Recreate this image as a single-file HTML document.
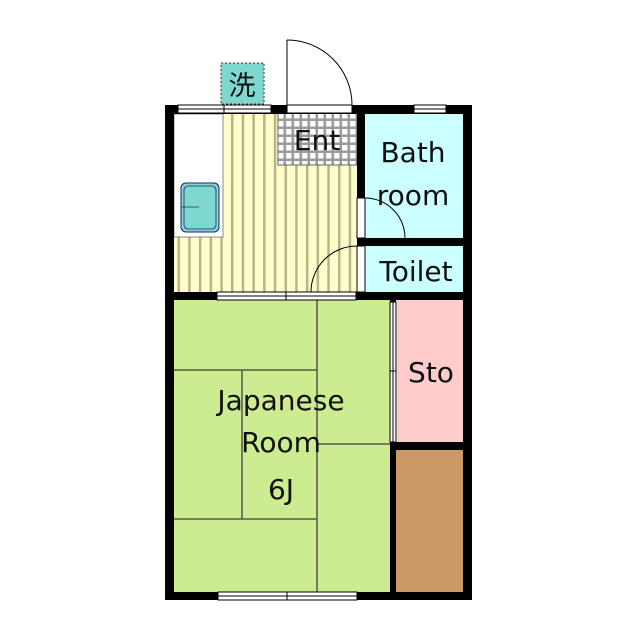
<!DOCTYPE html>
<html><head><meta charset="utf-8"><style>
html,body{margin:0;padding:0;background:#fff;}
svg{display:block;}
text{font-family:"DejaVu Sans","Liberation Sans","Noto Sans CJK JP",sans-serif;fill:#111;}
</style></head><body>
<svg width="640" height="640" viewBox="0 0 640 640" xmlns="http://www.w3.org/2000/svg">
<defs>
<pattern id="stripe" x="231" y="0" width="10.7" height="10" patternUnits="userSpaceOnUse">
<rect width="10.7" height="10" fill="#ffffcc"/><rect x="0" width="2.5" height="10" fill="#b8b48a"/>
</pattern>
<pattern id="grid" x="278" y="113" width="8" height="8" patternUnits="userSpaceOnUse">
<rect width="8" height="8" fill="#fff"/><rect x="5.5" width="3" height="8" fill="#999"/><rect y="5.5" width="8" height="3" fill="#999"/>
</pattern>
</defs>
<rect x="174" y="114" width="184" height="178" fill="url(#stripe)"/>
<rect x="174" y="114" width="49" height="123" fill="#fff" stroke="#888" stroke-width="1"/>
<rect x="181" y="183" width="38" height="49" rx="5" fill="#7fd8d0" stroke="#226" stroke-width="1"/>
<rect x="184" y="186" width="32" height="43" rx="4" fill="none" stroke="#226" stroke-width="0.8"/>
<line x1="181" y1="207" x2="199" y2="207" stroke="#333" stroke-width="0.8"/>
<rect x="278" y="113" width="79" height="52" fill="url(#grid)" stroke="#666" stroke-width="1"/>
<rect x="365" y="114" width="100" height="125" fill="#ccffff"/>
<rect x="365" y="246" width="100" height="46" fill="#ccffff"/>
<rect x="174" y="300" width="219" height="292" fill="#ccec8f"/>
<rect x="397" y="300" width="68" height="142" fill="#ffcccc"/>
<rect x="395" y="450" width="70" height="142" fill="#cc9966"/>
<g stroke="#555" stroke-width="1.5">
<line x1="317" y1="300" x2="317" y2="592"/>
<line x1="174" y1="370" x2="317" y2="370"/>
<line x1="242" y1="370" x2="242" y2="519"/>
<line x1="174" y1="519" x2="317" y2="519"/>
<line x1="317" y1="444" x2="393" y2="444"/>
</g>
<g fill="#000">
<rect x="165" y="105" width="9" height="495"/>
<rect x="463" y="105" width="9" height="495"/>
<rect x="165" y="105" width="307" height="9"/>
<rect x="165" y="592" width="307" height="8"/>
<rect x="165" y="292" width="307" height="8"/>
<rect x="357" y="105" width="8" height="195"/>
<rect x="357" y="238" width="115" height="8"/>
<rect x="390" y="300" width="6" height="300"/>
<rect x="390" y="442" width="82" height="8"/>
</g>
<g fill="#fff" stroke="#000" stroke-width="1">
<rect x="178" y="105" width="93" height="8"/>
<rect x="287" y="105" width="65" height="8"/>
<rect x="414" y="105" width="32" height="8"/>
<rect x="217" y="292" width="139" height="8"/>
<rect x="218" y="592" width="139" height="8"/>
<rect x="390" y="302" width="6" height="140"/>
<rect x="357" y="198" width="8" height="40"/>
<rect x="357" y="246" width="8" height="46"/>
</g>
<g stroke="#000" stroke-width="1" fill="none">
<line x1="178" y1="109" x2="271" y2="109"/><line x1="224" y1="105" x2="224" y2="113"/>
<line x1="217" y1="296" x2="356" y2="296"/><line x1="286" y1="292" x2="286" y2="300"/>
<line x1="218" y1="596" x2="357" y2="596"/><line x1="287" y1="592" x2="287" y2="600"/>
<line x1="393" y1="302" x2="393" y2="442"/><line x1="390" y1="371" x2="396" y2="371"/>
<line x1="414" y1="109" x2="446" y2="109"/>
<line x1="287" y1="105" x2="287" y2="40"/>
<path d="M287 40 A65 65 0 0 1 352 105"/>
<path d="M365 198 A40 40 0 0 1 405 238"/>
<path d="M357 246 A46 46 0 0 0 311 292"/>
</g>
<rect x="221" y="63" width="43" height="41" fill="#7fd8d0" stroke="#333" stroke-width="1" stroke-dasharray="2,2"/>
<text x="242" y="95" font-size="27" text-anchor="middle" style="font-family:'Noto Sans CJK JP',sans-serif">洗</text>
<text x="317" y="150" font-size="28" text-anchor="middle">Ent</text>
<text x="413" y="162" font-size="28" text-anchor="middle">Bath</text>
<text x="413" y="205" font-size="28" text-anchor="middle">room</text>
<text x="416" y="281" font-size="28" text-anchor="middle">Toilet</text>
<text x="431" y="382" font-size="28" text-anchor="middle">Sto</text>
<text x="281" y="410" font-size="28" text-anchor="middle">Japanese</text>
<text x="281" y="452" font-size="28" text-anchor="middle">Room</text>
<text x="281" y="499" font-size="28" text-anchor="middle">6J</text>
</svg>
</body></html>
